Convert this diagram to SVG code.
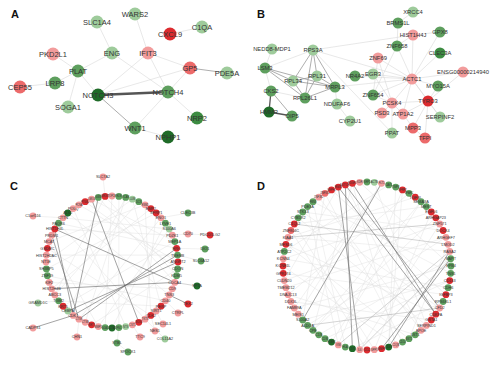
<svg xmlns="http://www.w3.org/2000/svg" width="501" height="369" viewBox="0 0 501 369">
<style>
text{font-family:"Liberation Sans",Arial,sans-serif;fill:#333;text-anchor:middle}
.pl{font-size:11px;font-weight:bold;fill:#111;text-anchor:start}
.a{font-size:7.5px}
.b{font-size:5.8px}
.s{font-size:3.8px}
.dense text{font-size:2.6px}
.r{fill:#dc2b2f}
.m{fill:#ec6a6a}
.p{fill:#f29c9c}
.g{fill:#5e9f5e}
.g3{fill:#3d8c42}
.lg{fill:#9ecb9b}
.dg{fill:#1f6b28}
.e1{stroke:#d9d9d9;stroke-width:.6;fill:none}
.e2{stroke:#999;stroke-width:.8;fill:none}
.e3{stroke:#555;stroke-width:1.3;fill:none}
.c1{stroke:#dcdcdc;stroke-width:.4;fill:none}
.c2{stroke:#aaa;stroke-width:.5;fill:none}
.c3{stroke:#666;stroke-width:.6;fill:none}
</style>
<text class="pl" x="11" y="18">A</text>
<text class="pl" x="257" y="18">B</text>
<text class="pl" x="10" y="190">C</text>
<text class="pl" x="257" y="190">D</text>
<g id="connectors">
<path class="e1" d="M97 22L112 53M135 14L148 53M170 34L202 27M53 54L78 71M112 53L78 71M112 53L168 92M168 92L197 118M78 71L98 95M78 71L68 107M78 71L55 83M20 87L55 83M148 53L190 68M148 53L98 95M148 53L168 92M190 68L98 95M190 68L168 92M168 92L135 128M135 128L168 137"/>
<path class="e2" d="M190 68L227 73M98 95L135 128"/>
<path class="e3" d="M98 94.3L168 91.3M98 95.7L168 92.7"/>
<path class="e1" d="M272 49L265 68M313 50L413 35M313 50L412 79M313 50L392 133M335 87L337 104M337 104L350 121M413 12L398 23M398 23L397 46M413 35L412 79M413 35L397 46M413 35L440 32M397 46L412 79M397 46L373 95M440 32L412 79M440 53L412 79M463 72L412 79M463 72L428 101M438 86L412 79M438 86L428 101M378 58L412 79M378 58L392 103M378 58L373 95M373 74L412 79M355 76L412 79M355 76L373 74M373 74L392 103M373 95L412 79M373 95L392 103M392 103L412 79M392 103L428 101M392 103L382 113M392 103L403 114M392 103L392 133M428 101L412 79M428 101L440 117M428 101L413 128M428 101L425 138M428 101L403 114M413 128L425 138M413 128L403 114M412 79L403 114M412 79L440 117M335 87L412 79M265 68L271 91M271 91L305 98M313 50L265 68"/>
<path class="e2" d="M313 50L317 76M313 50L293 81M313 50L335 87M313 50L305 98M317 76L293 81M317 76L335 87M317 76L305 98M293 81L335 87M293 81L305 98M293 81L265 68M335 87L305 98M265 68L305 98M265 68L335 87M271 91L292 116"/>
<path class="e3" d="M271 91L269 112M269 112L292 116"/>
<path class="c1" d="M63 217.8L169.2 229M58.6 223.2L176.6 248.3M79 204.8L178 262M112 196L105.1 327.6M125.7 197.4L85.2 322.3M138.8 201.7L54.8 295M145 204.8L49.2 241.6M156.2 213L46.4 268.9M161 217.8L79 319.2M165.4 223.2L112 328M172.3 235.2L54.8 229M174.8 241.6L63 306.2M177.6 255.1L46.4 255.1M177.6 268.9L85.2 201.7M176.6 275.7L105.1 196.4M169.2 295L67.8 213M165.4 300.8L47.4 275.7M161 306.2L132.4 199.2M150.8 315.4L145 204.8M145 319.2L156.2 213M125.7 326.6L73.2 208.6M118.9 327.6L118.9 196.4M98.3 326.6L169.2 229M91.6 324.8L177.6 268.9M67.8 311L125.7 197.4M58.6 300.8L161 306.2M49.2 282.4L172.3 288.8M47.4 248.3L150.8 315.4M49.2 241.6L98.3 326.6M58.6 223.2L145 319.2M91.6 199.2L174.8 241.6M98.3 197.4L174.8 282.4M105.1 196.4L54.8 295M132.4 199.2L46 262M150.8 208.6L51.7 288.8M103 177L105.1 196.4M33 216L63 217.8M188 213L161 217.8M188 234L172.3 235.2M210 235L188 234M205 249L176.6 248.3M201 261L177.6 255.1M178 313L165.4 300.8M163 324L156.2 311M155 331L150.8 315.4M165 339L145 319.2M140 337L132.4 324.8M117 343L118.9 327.6M128 352L117 343M77 337L79 319.2M38 303L58.6 300.8"/>
<path class="c2" d="M174.8 282.4L197 286"/>
<path class="c3" d="M54.8 229L174.8 282.4M51.7 288.8L174.8 282.4M91.6 199.2L138.8 322.3M98.3 197.4L73.2 315.4M54.8 229L73.2 315.4M51.7 235.2L79 319.2M73.2 315.4L177.6 255.1M79 319.2L176.6 248.3M67.8 311L178 262M169.2 295L188 304M33 328L73.2 315.4"/>
<path class="c1" d="M381.6 183.3L298.2 314.2M388.7 184.9L284.3 251.4M402.5 189.9L338.3 344.9M409 193.3L288.1 294.7M421 201.7L313 330.3M426.4 206.6L294.3 224M431.3 212L374.3 349.7M439.7 224L284.3 280.6M443.1 230.5L302.7 212M445.9 237.3L307.6 325.4M448.1 244.3L409 338.7M449.7 251.4L288.1 237.3M451 266L294.3 308M450.7 273.3L313 201.7M449.7 280.6L325 338.7M448.1 287.7L283.3 258.7M445.9 294.7L331.5 189.9M443.1 301.5L352.4 348.7M435.8 314.2L285.9 244.3M426.4 325.4L298.2 217.8M421 330.3L345.3 184.9M415.2 334.8L288.1 294.7M402.5 342.1L325 193.3M395.7 344.9L283 266M388.7 347.1L402.5 189.9M374.3 349.7L294.3 224M359.7 349.7L439.7 224M345.3 347.1L313 201.7M331.5 342.1L421 201.7M318.8 334.8L450.7 258.7M313 330.3L352.4 183.3M302.7 320L449.7 280.6M294.3 308L381.6 183.3M290.9 301.5L431.3 320M285.9 287.7L445.9 237.3M283.3 273.3L445.9 294.7M283.3 258.7L431.3 212M285.9 244.3L409 338.7M290.9 230.5L367 350M302.7 212L439.7 308M307.6 206.6L338.3 344.9M318.8 197.2L421 330.3M325 193.3L302.7 320M338.3 187.1L284.3 280.6M352.4 183.3L395.7 344.9M359.7 182.3L451 266M374.3 182.3L426.4 325.4M395.7 187.1L388.7 347.1M415.2 197.2L288.1 237.3M435.8 217.8L313 330.3"/>
<path class="c2" d="M288.1 237.3L439.7 224M294.3 224L448.1 244.3M307.6 325.4L439.7 308M338.3 344.9L449.7 251.4M359.7 349.7L450.7 258.7"/>
<path class="c3" d="M338.3 187.1L435.8 314.2M345.3 184.9L439.7 308M352.4 183.3L435.8 314.2M381.6 183.3L302.7 320M338.3 187.1L359.7 349.7M345.3 184.9L352.4 348.7M450.7 258.7L381.6 348.7M449.7 251.4L388.7 347.1"/>
</g>
<g id="panelA">
<g id="a-SLC1A4"><circle class="lg" cx="97" cy="22" r="6.5"/><text class="a" x="97" y="24.7">SLC1A4</text></g>
<g id="a-WARS2"><circle class="lg" cx="135" cy="14" r="6.5"/><text class="a" x="135" y="16.7">WARS2</text></g>
<g id="a-CXCL9"><circle class="r" cx="170" cy="34" r="6.5"/><text class="a" x="170" y="36.7">CXCL9</text></g>
<g id="a-C1QA"><circle class="lg" cx="202" cy="27" r="6.5"/><text class="a" x="202" y="29.7">C1QA</text></g>
<g id="a-PKD2L1"><circle class="p" cx="53" cy="54" r="6.5"/><text class="a" x="53" y="56.7">PKD2L1</text></g>
<g id="a-ENG"><circle class="lg" cx="112" cy="53" r="6.5"/><text class="a" x="112" y="55.7">ENG</text></g>
<g id="a-IFIT3"><circle class="p" cx="148" cy="53" r="6.5"/><text class="a" x="148" y="55.7">IFIT3</text></g>
<g id="a-PLAT"><circle class="g" cx="78" cy="71" r="6.5"/><text class="a" x="78" y="73.7">PLAT</text></g>
<g id="a-GP5"><circle class="m" cx="190" cy="68" r="6.5"/><text class="a" x="190" y="70.7">GP5</text></g>
<g id="a-PDE5A"><circle class="lg" cx="227" cy="73" r="6.5"/><text class="a" x="227" y="75.7">PDE5A</text></g>
<g id="a-CEP55"><circle class="m" cx="20" cy="87" r="6.5"/><text class="a" x="20" y="89.7">CEP55</text></g>
<g id="a-LRP8"><circle class="g" cx="55" cy="83" r="6.5"/><text class="a" x="55" y="85.7">LRP8</text></g>
<g id="a-NOTCH3"><circle class="dg" cx="98" cy="95" r="6.5"/><text class="a" x="98" y="97.7">NOTCH3</text></g>
<g id="a-NOTCH4"><circle class="g" cx="168" cy="92" r="6.5"/><text class="a" x="168" y="94.7">NOTCH4</text></g>
<g id="a-SOGA1"><circle class="lg" cx="68" cy="107" r="6.5"/><text class="a" x="68" y="109.7">SOGA1</text></g>
<g id="a-NRP2"><circle class="g3" cx="197" cy="118" r="6.5"/><text class="a" x="197" y="120.7">NRP2</text></g>
<g id="a-WNT1"><circle class="g" cx="135" cy="128" r="6.5"/><text class="a" x="135" y="130.7">WNT1</text></g>
<g id="a-NPHP1"><circle class="dg" cx="168" cy="137" r="6.5"/><text class="a" x="168" y="139.7">NPHP1</text></g>
</g>
<g id="panelB">
<g id="b-XRCC4"><circle class="lg" cx="413" cy="12" r="5.5"/><text class="b" x="413" y="14.1">XRCC4</text></g>
<g id="b-BRMS1L"><circle class="g" cx="398" cy="23" r="5.5"/><text class="b" x="398" y="25.1">BRMS1L</text></g>
<g id="b-HIST1H4J"><circle class="p" cx="413" cy="35" r="5.5"/><text class="b" x="413" y="37.1">HIST1H4J</text></g>
<g id="b-GPX8"><circle class="g" cx="440" cy="32" r="5.5"/><text class="b" x="440" y="34.1">GPX8</text></g>
<g id="b-ZNF658"><circle class="g" cx="397" cy="46" r="5.5"/><text class="b" x="397" y="48.1">ZNF658</text></g>
<g id="b-CLEC3A"><circle class="g3" cx="440" cy="53" r="5.5"/><text class="b" x="440" y="55.1">CLEC3A</text></g>
<g id="b-NEDD8-MDP1"><circle class="lg" cx="272" cy="49" r="5.5"/><text class="b" x="272" y="51.1">NEDD8-MDP1</text></g>
<g id="b-RPS3A"><circle class="lg" cx="313" cy="50" r="5.5"/><text class="b" x="313" y="52.1">RPS3A</text></g>
<g id="b-ZNF69"><circle class="p" cx="378" cy="58" r="5.5"/><text class="b" x="378" y="60.1">ZNF69</text></g>
<g id="b-ENSG00000214940"><circle class="p" cx="463" cy="72" r="5.5"/><text class="b" x="463" y="74.1">ENSG00000214940</text></g>
<g id="b-LSM3"><circle class="g" cx="265" cy="68" r="5.5"/><text class="b" x="265" y="70.1">LSM3</text></g>
<g id="b-RPL31"><circle class="lg" cx="317" cy="76" r="5.5"/><text class="b" x="317" y="78.1">RPL31</text></g>
<g id="b-NR4A2"><circle class="g" cx="355" cy="76" r="5.5"/><text class="b" x="355" y="78.1">NR4A2</text></g>
<g id="b-EGR3"><circle class="lg" cx="373" cy="74" r="5.5"/><text class="b" x="373" y="76.1">EGR3</text></g>
<g id="b-ACTC1"><circle class="p" cx="412" cy="79" r="5.5"/><text class="b" x="412" y="81.1">ACTC1</text></g>
<g id="b-RPL34"><circle class="lg" cx="293" cy="81" r="5.5"/><text class="b" x="293" y="83.1">RPL34</text></g>
<g id="b-MRPL3"><circle class="g" cx="335" cy="87" r="5.5"/><text class="b" x="335" y="89.1">MRPL3</text></g>
<g id="b-MYO15A"><circle class="g" cx="438" cy="86" r="5.5"/><text class="b" x="438" y="88.1">MYO15A</text></g>
<g id="b-CKS2"><circle class="g" cx="271" cy="91" r="5.5"/><text class="b" x="271" y="93.1">CKS2</text></g>
<g id="b-RPL26L1"><circle class="g" cx="305" cy="98" r="5.5"/><text class="b" x="305" y="100.1">RPL26L1</text></g>
<g id="b-ZNF654"><circle class="g" cx="373" cy="95" r="5.5"/><text class="b" x="373" y="97.1">ZNF654</text></g>
<g id="b-PCSK4"><circle class="p" cx="392" cy="103" r="5.5"/><text class="b" x="392" y="105.1">PCSK4</text></g>
<g id="b-TYRO3"><circle class="r" cx="428" cy="101" r="5.5"/><text class="b" x="428" y="103.1">TYRO3</text></g>
<g id="b-NDUFAF6"><circle class="lg" cx="337" cy="104" r="5.5"/><text class="b" x="337" y="106.1">NDUFAF6</text></g>
<g id="b-HMMR"><circle class="dg" cx="269" cy="112" r="5.5"/><text class="b" x="269" y="114.1">HMMR</text></g>
<g id="b-OIP5"><circle class="g" cx="292" cy="116" r="5.5"/><text class="b" x="292" y="118.1">OIP5</text></g>
<g id="b-PSD3"><circle class="p" cx="382" cy="113" r="5.5"/><text class="b" x="382" y="115.1">PSD3</text></g>
<g id="b-ATP1A2"><circle class="p" cx="403" cy="114" r="5.5"/><text class="b" x="403" y="116.1">ATP1A2</text></g>
<g id="b-SERPINF2"><circle class="lg" cx="440" cy="117" r="5.5"/><text class="b" x="440" y="119.1">SERPINF2</text></g>
<g id="b-CYP2U1"><circle class="lg" cx="350" cy="121" r="5.5"/><text class="b" x="350" y="123.1">CYP2U1</text></g>
<g id="b-PPAT"><circle class="lg" cx="392" cy="133" r="5.5"/><text class="b" x="392" y="135.1">PPAT</text></g>
<g id="b-MPP3"><circle class="m" cx="413" cy="128" r="5.5"/><text class="b" x="413" y="130.1">MPP3</text></g>
<g id="b-TFPI"><circle class="m" cx="425" cy="138" r="5.5"/><text class="b" x="425" y="140.1">TFPI</text></g>
</g>
<g id="panelC">
<g id="c0"><circle class="r" cx="178" cy="262" r="3.4"/><text class="s" x="178" y="263.4">ANGPT2</text></g>
<g id="c6"><circle class="g" cx="177.6" cy="268.9" r="3.4"/><text class="s" x="177.6" y="270.3">CDON</text></g>
<g id="c12"><circle class="g" cx="176.6" cy="275.7" r="3.4"/><text class="s" x="176.6" y="277.1">KDM5</text></g>
<g id="c18"><circle class="p" cx="174.8" cy="282.4" r="3.4"/><text class="s" x="174.8" y="283.8">CDCA4</text></g>
<g id="c24"><circle class="p" cx="172.3" cy="288.8" r="3.4"/><text class="s" x="172.3" y="290.2">CD9</text></g>
<g id="c30"><circle class="p" cx="169.2" cy="295" r="3.4"/><text class="s" x="169.2" y="296.4">TNS3</text></g>
<g id="c36"><circle class="p" cx="165.4" cy="300.8" r="3.4"/><text class="s" x="165.4" y="302.2">CD40</text></g>
<g id="c42"><circle class="r" cx="161" cy="306.2" r="3.4"/><text class="s" x="161" y="307.6">PERP</text></g>
<g id="c48"><circle class="p" cx="156.2" cy="311" r="3.4"/><text class="s" x="156.2" y="312.4">SIRT1</text></g>
<g id="c54"><circle class="r" cx="150.8" cy="315.4" r="3.4"/><text class="s" x="150.8" y="316.8">CDK2</text></g>
<g class="dense">
<g id="c60"><circle class="p" cx="145" cy="319.2" r="3.4"/><text x="145" y="320.2">TKT3</text></g>
<g id="c66"><circle class="r" cx="138.8" cy="322.3" r="3.4"/><text x="138.8" y="323.3">SOX4</text></g>
<g id="c72"><circle class="p" cx="132.4" cy="324.8" r="3.4"/><text x="132.4" y="325.8">CST1</text></g>
<g id="c78"><circle class="lg" cx="125.7" cy="326.6" r="3.4"/><text x="125.7" y="327.6">NTS</text></g>
<g id="c84"><circle class="g" cx="118.9" cy="327.6" r="3.4"/><text x="118.9" y="328.6">FN1</text></g>
<g id="c90"><circle class="dg" cx="112" cy="328" r="3.4"/><text x="112" y="329">ACTA2</text></g>
<g id="c96"><circle class="g" cx="105.1" cy="327.6" r="3.4"/><text x="105.1" y="328.6">GJA1</text></g>
<g id="c102"><circle class="p" cx="98.3" cy="326.6" r="3.4"/><text x="98.3" y="327.6">MMP1</text></g>
<g id="c108"><circle class="r" cx="91.6" cy="324.8" r="3.4"/><text x="91.6" y="325.8">KRT7</text></g>
<g id="c114"><circle class="p" cx="85.2" cy="322.3" r="3.4"/><text x="85.2" y="323.3">CTSB</text></g>
<g id="c120"><circle class="p" cx="79" cy="319.2" r="3.4"/><text x="79" y="320.2">CTSK</text></g>
</g>
<g id="c126"><circle class="p" cx="73.2" cy="315.4" r="3.4"/><text class="s" x="73.2" y="316.8">CDK1</text></g>
<g id="c132"><circle class="lg" cx="67.8" cy="311" r="3.4"/><text class="s" x="67.8" y="312.4">CEBPA</text></g>
<g id="c138"><circle class="r" cx="63" cy="306.2" r="3.4"/><text class="s" x="63" y="307.6">KRT5</text></g>
<g id="c144"><circle class="g" cx="58.6" cy="300.8" r="3.4"/><text class="s" x="58.6" y="302.2">TGM2</text></g>
<g id="c150"><circle class="p" cx="54.8" cy="295" r="3.4"/><text class="s" x="54.8" y="296.4">ABCC3</text></g>
<g id="c156"><circle class="p" cx="51.7" cy="288.8" r="3.4"/><text class="s" x="51.7" y="290.2">HIST2H4B</text></g>
<g id="c162"><circle class="p" cx="49.2" cy="282.4" r="3.4"/><text class="s" x="49.2" y="283.8">KIF2</text></g>
<g id="c168"><circle class="g" cx="47.4" cy="275.7" r="3.4"/><text class="s" x="47.4" y="277.1">ZNF19</text></g>
<g id="c174"><circle class="g" cx="46.4" cy="268.9" r="3.4"/><text class="s" x="46.4" y="270.3">SH3BP5</text></g>
<g id="c180"><circle class="p" cx="46" cy="262" r="3.4"/><text class="s" x="46" y="263.4">NT5E</text></g>
<g id="c186"><circle class="p" cx="46.4" cy="255.1" r="3.4"/><text class="s" x="46.4" y="256.5">HIST2H2AC</text></g>
<g id="c192"><circle class="r" cx="47.4" cy="248.3" r="3.4"/><text class="s" x="47.4" y="249.7">GSDMC</text></g>
<g id="c198"><circle class="p" cx="49.2" cy="241.6" r="3.4"/><text class="s" x="49.2" y="243">MCAT</text></g>
<g id="c204"><circle class="p" cx="51.7" cy="235.2" r="3.4"/><text class="s" x="51.7" y="236.6">PRDM1</text></g>
<g id="c210"><circle class="r" cx="54.8" cy="229" r="3.4"/><text class="s" x="54.8" y="230.4">HIST1H4L</text></g>
<g id="c216"><circle class="g" cx="58.6" cy="223.2" r="3.4"/><text class="s" x="58.6" y="224.6">PAQR6</text></g>
<g id="c222"><circle class="p" cx="63" cy="217.8" r="3.4"/><text class="s" x="63" y="219.2">CTTN</text></g>
<g id="c228"><circle class="dg" cx="67.8" cy="213" r="3.4"/><text class="s" x="67.8" y="214.4">ALS2</text></g>
<g id="c234"><circle class="p" cx="73.2" cy="208.6" r="3.4"/><text class="s" x="73.2" y="210">POLQ</text></g>
<g class="dense">
<g id="c240"><circle class="p" cx="79" cy="204.8" r="3.4"/><text x="79" y="205.8">PCNA</text></g>
<g id="c246"><circle class="r" cx="85.2" cy="201.7" r="3.4"/><text x="85.2" y="202.7">PTGS2</text></g>
<g id="c252"><circle class="p" cx="91.6" cy="199.2" r="3.4"/><text x="91.6" y="200.2">LMO4</text></g>
<g id="c258"><circle class="g" cx="98.3" cy="197.4" r="3.4"/><text x="98.3" y="198.4">GSN</text></g>
<g id="c264"><circle class="r" cx="105.1" cy="196.4" r="3.4"/><text x="105.1" y="197.4">MKI67</text></g>
<g id="c270"><circle class="p" cx="112" cy="196" r="3.4"/><text x="112" y="197">TOP2A</text></g>
<g id="c276"><circle class="g" cx="118.9" cy="196.4" r="3.4"/><text x="118.9" y="197.4">ELN</text></g>
<g id="c282"><circle class="g" cx="125.7" cy="197.4" r="3.4"/><text x="125.7" y="198.4">VCAN</text></g>
<g id="c288"><circle class="lg" cx="132.4" cy="199.2" r="3.4"/><text x="132.4" y="200.2">LUM</text></g>
<g id="c294"><circle class="g" cx="138.8" cy="201.7" r="3.4"/><text x="138.8" y="202.7">DCN</text></g>
<g id="c300"><circle class="p" cx="145" cy="204.8" r="3.4"/><text x="145" y="205.8">ESM1</text></g>
</g>
<g id="c306"><circle class="r" cx="150.8" cy="208.6" r="3.4"/><text class="s" x="150.8" y="210">EMP2</text></g>
<g id="c312"><circle class="r" cx="156.2" cy="213" r="3.4"/><text class="s" x="156.2" y="214.4">SFRP1</text></g>
<g id="c318"><circle class="p" cx="161" cy="217.8" r="3.4"/><text class="s" x="161" y="219.2">ENO1</text></g>
<g id="c324"><circle class="g" cx="165.4" cy="223.2" r="3.4"/><text class="s" x="165.4" y="224.6">LYVE1</text></g>
<g id="c330"><circle class="lg" cx="169.2" cy="229" r="3.4"/><text class="s" x="169.2" y="230.4">S100A6</text></g>
<g id="c336"><circle class="p" cx="172.3" cy="235.2" r="3.4"/><text class="s" x="172.3" y="236.6">PDZK1</text></g>
<g id="c342"><circle class="g" cx="174.8" cy="241.6" r="3.4"/><text class="s" x="174.8" y="243">MEP1A</text></g>
<g id="c348"><circle class="r" cx="176.6" cy="248.3" r="3.4"/><text class="s" x="176.6" y="249.7">ERG</text></g>
<g id="c354"><circle class="g" cx="177.6" cy="255.1" r="3.4"/><text class="s" x="177.6" y="256.5">TMEM8</text></g>
<g id="c-SLC7A2"><circle class="p" cx="103" cy="177" r="3.4"/><text class="s" x="103" y="178.4">SLC7A2</text></g>
<g id="c-C1orf116"><circle class="p" cx="33" cy="216" r="3.4"/><text class="s" x="33" y="217.4">C1orf116</text></g>
<g id="c-CLEC3B"><circle class="g" cx="188" cy="213" r="3.4"/><text class="s" x="188" y="214.4">CLEC3B</text></g>
<g id="c-CD70"><circle class="p" cx="188" cy="234" r="3.4"/><text class="s" x="188" y="235.4">CD70</text></g>
<g id="c-PDCD1LG2"><circle class="r" cx="210" cy="235" r="3.4"/><text class="s" x="210" y="236.4">PDCD1LG2</text></g>
<g id="c-DIO1"><circle class="g" cx="205" cy="249" r="3.4"/><text class="s" x="205" y="250.4">DIO1</text></g>
<g id="c-SLC6A12"><circle class="g" cx="201" cy="261" r="3.4"/><text class="s" x="201" y="262.4">SLC6A12</text></g>
<g id="c-SPTA"><circle class="dg" cx="197" cy="286" r="3.4"/><text class="s" x="197" y="287.4">SPTA</text></g>
<g id="c-TEX2"><circle class="r" cx="188" cy="304" r="3.4"/><text class="s" x="188" y="305.4">TEX2</text></g>
<g id="c-CTRPL"><circle class="p" cx="178" cy="313" r="3.4"/><text class="s" x="178" y="314.4">CTRPL</text></g>
<g id="c-SEC14L1"><circle class="p" cx="163" cy="324" r="3.4"/><text class="s" x="163" y="325.4">SEC14L1</text></g>
<g id="c-NES1"><circle class="p" cx="155" cy="331" r="3.4"/><text class="s" x="155" y="332.4">NES1</text></g>
<g id="c-COL11A2"><circle class="lg" cx="165" cy="339" r="3.4"/><text class="s" x="165" y="340.4">COL11A2</text></g>
<g id="c-TTC9"><circle class="p" cx="140" cy="337" r="3.4"/><text class="s" x="140" y="338.4">TTC9</text></g>
<g id="c-STBL"><circle class="g" cx="117" cy="343" r="3.4"/><text class="s" x="117" y="344.4">STBL</text></g>
<g id="c-SPOCK1"><circle class="g" cx="128" cy="352" r="3.4"/><text class="s" x="128" y="353.4">SPOCK1</text></g>
<g id="c-CADPS1"><circle class="p" cx="33" cy="328" r="3.4"/><text class="s" x="33" y="329.4">CADPS1</text></g>
<g id="c-CHN1"><circle class="p" cx="77" cy="337" r="3.4"/><text class="s" x="77" y="338.4">CHN1</text></g>
<g id="c-GRAMD1C"><circle class="lg" cx="38" cy="303" r="3.4"/><text class="s" x="38" y="304.4">GRAMD1C</text></g>
</g>
<g id="panelD">
<g class="dense">
<g id="d0"><circle class="g" cx="367" cy="182" r="3.4"/><text x="367" y="183">NRP1</text></g>
<g id="d1"><circle class="lg" cx="374.3" cy="182.3" r="3.4"/><text x="374.3" y="183.3">ACTB</text></g>
<g id="d2"><circle class="p" cx="381.6" cy="183.3" r="3.4"/><text x="381.6" y="184.3">FLT1</text></g>
<g id="d3"><circle class="g" cx="388.7" cy="184.9" r="3.4"/><text x="388.7" y="185.9">CAV1</text></g>
<g id="d4"><circle class="g" cx="395.7" cy="187.1" r="3.4"/><text x="395.7" y="188.1">TIMP3</text></g>
<g id="d5"><circle class="r" cx="402.5" cy="189.9" r="3.4"/><text x="402.5" y="190.9">SFRP2</text></g>
<g id="d6"><circle class="g" cx="409" cy="193.3" r="3.4"/><text x="409" y="194.3">SPARC</text></g>
</g>
<g id="d7"><circle class="r" cx="415.2" cy="197.2" r="3.4"/><text class="s" x="415.2" y="198.6">TGFBI</text></g>
<g id="d8"><circle class="g" cx="421" cy="201.7" r="3.4"/><text class="s" x="421" y="203.1">SEMA3A</text></g>
<g id="d9"><circle class="g" cx="426.4" cy="206.6" r="3.4"/><text class="s" x="426.4" y="208">MEST</text></g>
<g id="d10"><circle class="r" cx="431.3" cy="212" r="3.4"/><text class="s" x="431.3" y="213.4">EGFL6</text></g>
<g id="d11"><circle class="r" cx="435.8" cy="217.8" r="3.4"/><text class="s" x="435.8" y="219.2">ARHGAP23</text></g>
<g id="d12"><circle class="p" cx="439.7" cy="224" r="3.4"/><text class="s" x="439.7" y="225.4">ZNF571</text></g>
<g id="d13"><circle class="r" cx="443.1" cy="230.5" r="3.4"/><text class="s" x="443.1" y="231.9">DOCK4</text></g>
<g id="d14"><circle class="p" cx="445.9" cy="237.3" r="3.4"/><text class="s" x="445.9" y="238.7">ARHGEF7</text></g>
<g id="d15"><circle class="p" cx="448.1" cy="244.3" r="3.4"/><text class="s" x="448.1" y="245.7">LMOD2</text></g>
<g id="d16"><circle class="p" cx="449.7" cy="251.4" r="3.4"/><text class="s" x="449.7" y="252.8">RASA2</text></g>
<g id="d17"><circle class="g" cx="450.7" cy="258.7" r="3.4"/><text class="s" x="450.7" y="260.1">MAPT</text></g>
<g id="d18"><circle class="g" cx="451" cy="266" r="3.4"/><text class="s" x="451" y="267.4">EPB4</text></g>
<g id="d19"><circle class="g" cx="450.7" cy="273.3" r="3.4"/><text class="s" x="450.7" y="274.7">TNS1</text></g>
<g id="d20"><circle class="r" cx="449.7" cy="280.6" r="3.4"/><text class="s" x="449.7" y="282">CD163</text></g>
<g id="d21"><circle class="g" cx="448.1" cy="287.7" r="3.4"/><text class="s" x="448.1" y="289.1">CDH6</text></g>
<g id="d22"><circle class="r" cx="445.9" cy="294.7" r="3.4"/><text class="s" x="445.9" y="296.1">IGFBP3</text></g>
<g id="d23"><circle class="g" cx="443.1" cy="301.5" r="3.4"/><text class="s" x="443.1" y="302.9">RPS6KL1</text></g>
<g id="d24"><circle class="p" cx="439.7" cy="308" r="3.4"/><text class="s" x="439.7" y="309.4">CFD2</text></g>
<g id="d25"><circle class="r" cx="435.8" cy="314.2" r="3.4"/><text class="s" x="435.8" y="315.6">CDKPA</text></g>
<g id="d26"><circle class="r" cx="431.3" cy="320" r="3.4"/><text class="s" x="431.3" y="321.4">GSTA1</text></g>
<g id="d27"><circle class="p" cx="426.4" cy="325.4" r="3.4"/><text class="s" x="426.4" y="326.8">SERPIND1</text></g>
<g id="d28"><circle class="p" cx="421" cy="330.3" r="3.4"/><text class="s" x="421" y="331.7">APOE</text></g>
<g id="d29"><circle class="g" cx="415.2" cy="334.8" r="3.4"/><text class="s" x="415.2" y="336.2">LST1</text></g>
<g class="dense">
<g id="d30"><circle class="g" cx="409" cy="338.7" r="3.4"/><text x="409" y="339.7">BST1</text></g>
<g id="d31"><circle class="g" cx="402.5" cy="342.1" r="3.4"/><text x="402.5" y="343.1">CD14</text></g>
<g id="d32"><circle class="p" cx="395.7" cy="344.9" r="3.4"/><text x="395.7" y="345.9">C1QB</text></g>
<g id="d33"><circle class="dg" cx="388.7" cy="347.1" r="3.4"/><text x="388.7" y="348.1">CD68</text></g>
<g id="d34"><circle class="r" cx="381.6" cy="348.7" r="3.4"/><text x="381.6" y="349.7">MMP9</text></g>
<g id="d35"><circle class="p" cx="374.3" cy="349.7" r="3.4"/><text x="374.3" y="350.7">SPP1</text></g>
<g id="d36"><circle class="r" cx="367" cy="350" r="3.4"/><text x="367" y="351">CCL2</text></g>
<g id="d37"><circle class="p" cx="359.7" cy="349.7" r="3.4"/><text x="359.7" y="350.7">IL6</text></g>
<g id="d38"><circle class="dg" cx="352.4" cy="348.7" r="3.4"/><text x="352.4" y="349.7">CD74</text></g>
<g id="d39"><circle class="g" cx="345.3" cy="347.1" r="3.4"/><text x="345.3" y="348.1">HLA</text></g>
<g id="d40"><circle class="p" cx="338.3" cy="344.9" r="3.4"/><text x="338.3" y="345.9">VIM</text></g>
<g id="d41"><circle class="dg" cx="331.5" cy="342.1" r="3.4"/><text x="331.5" y="343.1">FCER1</text></g>
<g id="d42"><circle class="g" cx="325" cy="338.7" r="3.4"/><text x="325" y="339.7">CD36</text></g>
</g>
<g id="d43"><circle class="g" cx="318.8" cy="334.8" r="3.4"/><text class="s" x="318.8" y="336.2">C1S</text></g>
<g id="d44"><circle class="g" cx="313" cy="330.3" r="3.4"/><text class="s" x="313" y="331.7">CPE</text></g>
<g id="d45"><circle class="g" cx="307.6" cy="325.4" r="3.4"/><text class="s" x="307.6" y="326.8">ALDOA</text></g>
<g id="d46"><circle class="g" cx="302.7" cy="320" r="3.4"/><text class="s" x="302.7" y="321.4">S100A2</text></g>
<g id="d47"><circle class="p" cx="298.2" cy="314.2" r="3.4"/><text class="s" x="298.2" y="315.6">MEIS1</text></g>
<g id="d48"><circle class="p" cx="294.3" cy="308" r="3.4"/><text class="s" x="294.3" y="309.4">FAM89A</text></g>
<g id="d49"><circle class="p" cx="290.9" cy="301.5" r="3.4"/><text class="s" x="290.9" y="302.9">DDX3L</text></g>
<g id="d50"><circle class="p" cx="288.1" cy="294.7" r="3.4"/><text class="s" x="288.1" y="296.1">DNAJC13</text></g>
<g id="d51"><circle class="p" cx="285.9" cy="287.7" r="3.4"/><text class="s" x="285.9" y="289.1">TMEM212</text></g>
<g id="d52"><circle class="p" cx="284.3" cy="280.6" r="3.4"/><text class="s" x="284.3" y="282">CLDN20</text></g>
<g id="d53"><circle class="r" cx="283.3" cy="273.3" r="3.4"/><text class="s" x="283.3" y="274.7">GPR174</text></g>
<g id="d54"><circle class="r" cx="283" cy="266" r="3.4"/><text class="s" x="283" y="267.4">KCNE1L</text></g>
<g id="d55"><circle class="p" cx="283.3" cy="258.7" r="3.4"/><text class="s" x="283.3" y="260.1">KCNN4</text></g>
<g id="d56"><circle class="g" cx="284.3" cy="251.4" r="3.4"/><text class="s" x="284.3" y="252.8">ATP2C2</text></g>
<g id="d57"><circle class="r" cx="285.9" cy="244.3" r="3.4"/><text class="s" x="285.9" y="245.7">MFSD6</text></g>
<g id="d58"><circle class="p" cx="288.1" cy="237.3" r="3.4"/><text class="s" x="288.1" y="238.7">KIAA1</text></g>
<g id="d59"><circle class="m" cx="290.9" cy="230.5" r="3.4"/><text class="s" x="290.9" y="231.9">ZNF804C</text></g>
<g id="d60"><circle class="r" cx="294.3" cy="224" r="3.4"/><text class="s" x="294.3" y="225.4">C1QL2</text></g>
<g id="d61"><circle class="g" cx="298.2" cy="217.8" r="3.4"/><text class="s" x="298.2" y="219.2">CYB5R2</text></g>
<g id="d62"><circle class="g" cx="302.7" cy="212" r="3.4"/><text class="s" x="302.7" y="213.4">STK33</text></g>
<g id="d63"><circle class="g" cx="307.6" cy="206.6" r="3.4"/><text class="s" x="307.6" y="208">PDE3A</text></g>
<g class="dense">
<g id="d64"><circle class="g" cx="313" cy="201.7" r="3.4"/><text x="313" y="202.7">FBN3</text></g>
<g id="d65"><circle class="p" cx="318.8" cy="197.2" r="3.4"/><text x="318.8" y="198.2">ZNF382</text></g>
<g id="d66"><circle class="m" cx="325" cy="193.3" r="3.4"/><text x="325" y="194.3">ZNF331</text></g>
<g id="d67"><circle class="r" cx="331.5" cy="189.9" r="3.4"/><text x="331.5" y="190.9">VEPH1</text></g>
<g id="d68"><circle class="r" cx="338.3" cy="187.1" r="3.4"/><text x="338.3" y="188.1">RGS5</text></g>
<g id="d69"><circle class="r" cx="345.3" cy="184.9" r="3.4"/><text x="345.3" y="185.9">NOTCH3</text></g>
<g id="d70"><circle class="r" cx="352.4" cy="183.3" r="3.4"/><text x="352.4" y="184.3">PDGFB</text></g>
<g id="d71"><circle class="p" cx="359.7" cy="182.3" r="3.4"/><text x="359.7" y="183.3">KDR</text></g>
</g>
</g>
</svg>
